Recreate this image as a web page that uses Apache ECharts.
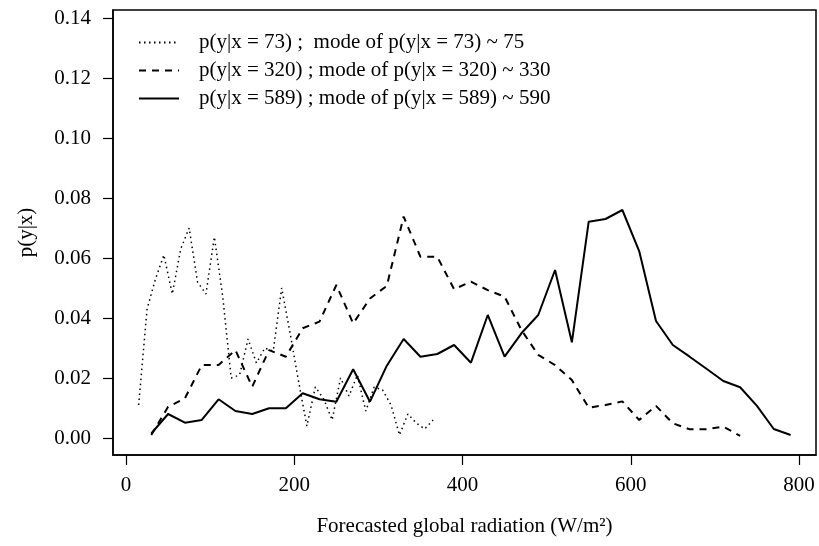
<!DOCTYPE html>
<html>
<head>
<meta charset="utf-8">
<script src="https://cdn.jsdelivr.net/npm/echarts@6/dist/echarts.min.js"></script>
<style>html,body{margin:0;padding:0;background:#fff;}#c{width:819px;height:546px;}</style>
</head>
<body>
<div id="c"></div>
<script>
// Data
const xDotted = [15,25,35,45,55,65,75,85,95,105,115,125,135,145,155,165,175,185,195,205,215,225,235,245,255,265,275,285,295,305,315,325,335,345,355,365];
const yDotted = [0.011,0.043,0.053,0.061,0.048,0.063,0.070,0.052,0.048,0.067,0.047,0.020,0.021,0.033,0.025,0.030,0.029,0.050,0.035,0.019,0.004,0.017,0.013,0.006,0.020,0.014,0.021,0.009,0.017,0.016,0.011,0.001,0.008,0.005,0.003,0.006];

const xDashed = [30,50,70,90,110,130,150,170,190,210,230,250,270,290,310,330,350,370,390,410,430,450,470,490,510,530,550,570,590,610,630,650,670,690,710,730];
const yDashed = [0.001,0.0104,0.0132,0.0243,0.0243,0.0293,0.0171,0.0293,0.0271,0.0366,0.0388,0.051,0.0382,0.0465,0.0507,0.0738,0.0604,0.0604,0.0496,0.0521,0.0493,0.0471,0.036,0.0277,0.0243,0.0193,0.0101,0.011,0.0122,0.006,0.0107,0.0049,0.0029,0.0029,0.0038,0.0007];

const xSolid = [30,50,70,90,110,130,150,170,190,210,230,250,270,290,310,330,350,370,390,410,430,450,470,490,510,530,550,570,590,610,630,650,670,690,710,730,750,770,790];
const ySolid = [0.0015,0.008,0.0051,0.006,0.0129,0.009,0.008,0.0099,0.0099,0.0149,0.0129,0.0121,0.0229,0.0121,0.0241,0.033,0.0271,0.028,0.031,0.0251,0.041,0.0271,0.0349,0.041,0.056,0.0319,0.0721,0.073,0.076,0.0623,0.039,0.031,0.0271,0.0231,0.019,0.0169,0.0107,0.003,0.001];

const xTicks = [0,200,400,600,800];
const yTicks = [0,0.02,0.04,0.06,0.08,0.10,0.12,0.14];

const seriesNames = [
  'p(y|x = 73) ;  mode of p(y|x = 73) ~ 75',
  'p(y|x = 320) ; mode of p(y|x = 320) ~ 330',
  'p(y|x = 589) ; mode of p(y|x = 589) ~ 590'
];
const xLabel = 'Forecasted global radiation (W/m\u00B2)';
const yLabel = 'p(y|x)';

function pairs(xs, ys){ return xs.map((x,i)=>[x, ys[i]]); }

const FONT = '"Liberation Serif", "Times New Roman", serif';
const chart = echarts.init(document.getElementById('c'), null, {renderer:'canvas'});
chart.setOption({
  animation: false,
  backgroundColor: '#fff',
  grid: {left:113, right:3, top:10, bottom:91, show:true, borderColor:'#000', borderWidth:1.5, backgroundColor:'transparent'},
  legend: {
    orient:'vertical', left:133, top:27, itemWidth:40, itemHeight:14, itemGap:7,
    itemStyle:{color:'rgba(0,0,0,0)', borderWidth:0, opacity:0},
    textStyle:{fontFamily:FONT, fontSize:21, color:'#000', padding:[0,0,0,15]},
    data: seriesNames
  },
  xAxis: {
    type:'value', min:-15.5, max:820.2,
    splitLine:{show:false},
    axisLine:{show:true, onZero:false, lineStyle:{color:'#000', width:1.5}},
    axisTick:{show:true, inside:false, length:10, customValues:xTicks, lineStyle:{color:'#000', width:1.2}},
    axisLabel:{customValues:xTicks, margin:20, fontFamily:FONT, fontSize:21, color:'#000'},
    name:xLabel, nameLocation:'middle', nameGap:61,
    nameTextStyle:{fontFamily:FONT, fontSize:21, color:'#000'}
  },
  yAxis: {
    type:'value', min:-0.00567, max:0.14267,
    splitLine:{show:false},
    axisLine:{show:true, onZero:false, lineStyle:{color:'#000', width:1.5}},
    axisTick:{show:true, inside:false, length:10, customValues:yTicks, lineStyle:{color:'#000', width:1.2}},
    axisLabel:{customValues:yTicks, margin:22, fontFamily:FONT, fontSize:21, color:'#000',
      formatter:(v)=>v.toFixed(2)},
    name:yLabel, nameLocation:'middle', nameGap:76, nameRotate:90,
    nameTextStyle:{fontFamily:FONT, fontSize:21, color:'#000'}
  },
  series: [
    {name:seriesNames[0], type:'line', symbol:'none', data:pairs(xDotted,yDotted),
     lineStyle:{color:'#000', width:1.5, type:[1.5,3.5]}, itemStyle:{color:'#000'}},
    {name:seriesNames[1], type:'line', symbol:'none', data:pairs(xDashed,yDashed),
     lineStyle:{color:'#000', width:2, type:[7,6]}, itemStyle:{color:'#000'}},
    {name:seriesNames[2], type:'line', symbol:'none', data:pairs(xSolid,ySolid),
     lineStyle:{color:'#000', width:2, type:'solid'}, itemStyle:{color:'#000'}}
  ]
});
</script>
</body>
</html>
